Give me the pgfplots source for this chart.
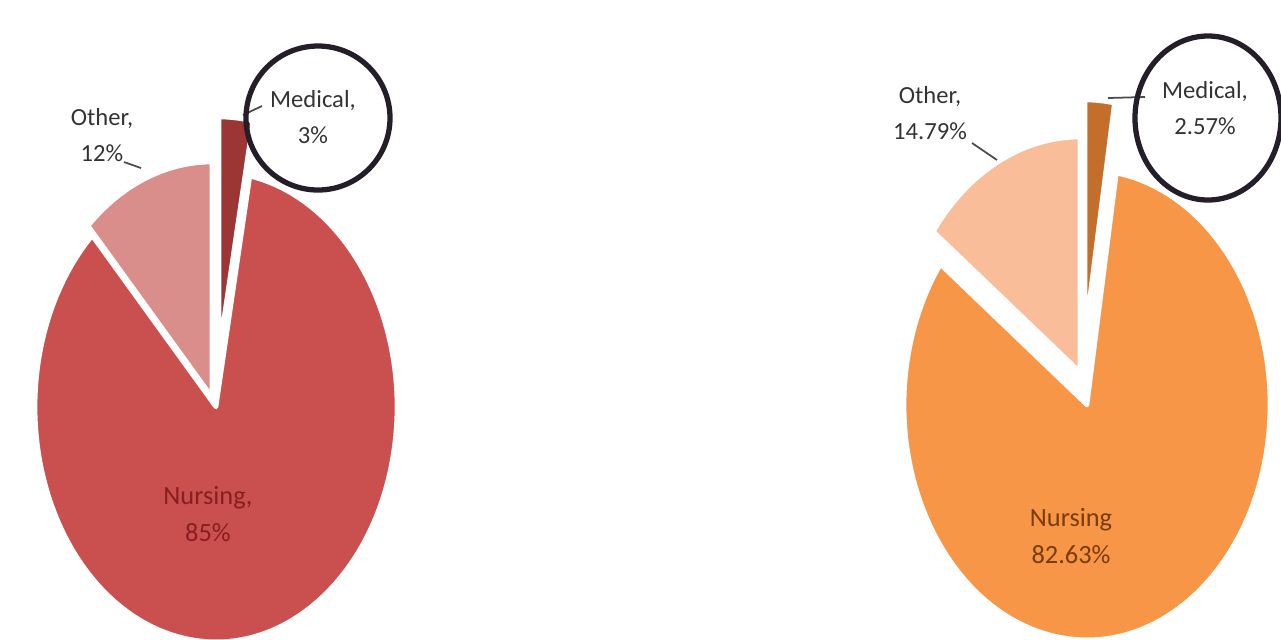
\documentclass[border=0pt]{standalone}
\usepackage{pgfplots}
\pgfplotsset{compat=1.18}
\usepackage{fontspec}
\setmainfont{Carlito}
\definecolor{nursA}{HTML}{C9504F}
\definecolor{othA}{HTML}{D98E8C}
\definecolor{medA}{HTML}{9C3634}
\definecolor{nursB}{HTML}{F79646}
\definecolor{othB}{HTML}{F9BD9A}
\definecolor{medB}{HTML}{C46E2C}
\definecolor{labA}{HTML}{8A1E1E}
\definecolor{labB}{HTML}{7A3C05}
\definecolor{ring}{HTML}{231E28}
% cx cy rx ry start(%) value(%) dx dy colour  (all in pixel units)
\newcommand{\pieslice}[9]{%
 \pgfplotsextra{%
  \pgfmathsetmacro\aA{90-3.6*#5}%
  \pgfmathsetmacro\aB{90-3.6*(#5+#6)}%
  \pgfmathsetmacro\px{#1+#7+#3*cos(\aA)}%
  \pgfmathsetmacro\py{#2+#8-#4*sin(\aA)}%
  \fill[#9, draw=white, line width=1.3pt, line join=round]
    (axis cs:#1+#7,#2+#8) -- (axis cs:\px,\py)
    arc[start angle=\aA, end angle=\aB, x radius=#3*0.01cm, y radius=#4*0.01cm] -- cycle;
 }}
\begin{document}
\begin{tikzpicture}
\begin{axis}[
  width=12.81cm, height=6.39cm, scale only axis,
  xmin=0, xmax=1281, ymin=0, ymax=639, y dir=reverse,
  hide axis, clip=true,
]
\addplot[draw=none] coordinates {(0,0) (1281,639)};
% ---- Left pie: Medical 3, Nursing 85, Other 12
\pieslice{216}{407}{181}{235}{3}{85}{0}{0}{nursA}
\pieslice{216}{407}{181}{235}{88}{12}{-4}{-10}{othA}
\pieslice{216}{407}{181}{235}{0}{3}{3}{-55}{medA}
% ---- Right pie: Medical 2.57, Nursing 82.63, Other 14.79
\pieslice{1087}{405}{183}{235}{2.57}{82.63}{0}{0}{nursB}
\pieslice{1087}{405}{183}{235}{85.2}{14.79}{-7}{-33}{othB}
\pieslice{1087}{405}{183}{235}{0}{2.57}{-2}{-70}{medB}
% ---- labels
\pgfplotsextra{
\node[align=center, font=\fontsize{7}{10}\selectfont, text=black!80] at (axis cs:102,135) {Other,\\12\%};
\draw[black!70, line width=0.5pt] (axis cs:124,162) -- (axis cs:141,168);
\node[align=center, font=\fontsize{7}{10}\selectfont, text=black!80] at (axis cs:313,117) {Medical,\\3\%};
\draw[black!70, line width=0.5pt] (axis cs:243,115) -- (axis cs:262,106);
\draw[ring, line width=1.5pt] (axis cs:318,118) ellipse[x radius=0.72cm, y radius=0.72cm];
\node[align=center, font=\fontsize{7.5}{10.5}\selectfont, text=labA] at (axis cs:208,514) {Nursing,\\85\%};
\node[align=center, font=\fontsize{7}{10}\selectfont, text=black!80] at (axis cs:930,113) {Other,\\14.79\%};
\draw[black!70, line width=0.5pt] (axis cs:972,143) -- (axis cs:997,160);
\node[align=center, font=\fontsize{7}{10}\selectfont, text=black!80] at (axis cs:1205,108) {Medical,\\2.57\%};
\draw[black!70, line width=0.5pt] (axis cs:1108,98) -- (axis cs:1145,97);
\draw[ring, line width=1.5pt] (axis cs:1208,118) ellipse[x radius=0.73cm, y radius=0.82cm];
\node[align=center, font=\fontsize{7.5}{10.5}\selectfont, text=labB] at (axis cs:1071,536) {Nursing\\82.63\%};
}
\end{axis}
\end{tikzpicture}
\end{document}
